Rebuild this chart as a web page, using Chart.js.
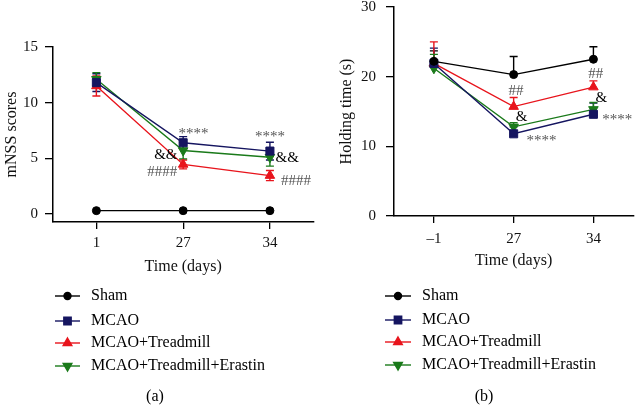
<!DOCTYPE html>
<html>
<head>
<meta charset="utf-8">
<script src="https://cdn.jsdelivr.net/npm/chart.js@4/dist/chart.umd.min.js"></script>
<style>
body { margin: 0; background: #fff; overflow: hidden; }
#wrap { position: relative; width: 640px; height: 406px; overflow: hidden; }
canvas { position: absolute; }
</style>
</head>
<body>
<div id="wrap">
  <canvas id="chartA" width="320" height="406" style="left:0;top:0"></canvas>
  <canvas id="chartB" width="320" height="418" style="left:320px;top:-12px"></canvas>
</div>
<script>
const FONT = "'Liberation Serif', 'Times New Roman', serif";

// groups
const groups = ['Sham', 'MCAO', 'MCAO+Treadmill', 'MCAO+Treadmill+Erastin'];
const colors = ['#000000', '#151560', '#e8141c', '#1a7a1a'];
const markers = ['circle', 'rect', 'triangle', 'triangle'];
const markerRot = [0, 0, 0, 180];
const markerSize = [4, 5.7, 5.5, 5.5];

// (a) mNSS scores
const daysA = ['1', '27', '34'];
const mnssSham = [0.3, 0.3, 0.3];
const mnssMcao = [11.8, 6.4, 5.65];
const mnssTread = [11.5, 4.45, 3.45];
const mnssErastin = [12.1, 5.7, 5.1];
const mnssSemSham = [0, 0, 0];
const mnssSemMcao = [0.8, 0.55, 0.8];
const mnssSemTread = [0.9, 0.4, 0.45];
const mnssSemErastin = [0.6, 0.75, 0.8];
const ticksA = [0, 5, 10, 15];

// (b) holding time
const daysB = ['\u20131', '27', '34'];
const holdSham = [22.2, 20.3, 22.5];
const holdMcao = [21.9, 11.8, 14.6];
const holdTread = [21.9, 15.7, 18.5];
const holdErastin = [21.2, 12.8, 15.3];
const holdSemSham = [1.5, 2.6, 1.8];
const holdSemMcao = [2.2, 1.0, 1.6];
const holdSemTread = [3.1, 1.3, 0.9];
const holdSemErastin = [2.0, 0.6, 1.0];
const ticksB = [0, 10, 20, 30];

// significance marks: x is the category index, y the data value
const notesA = [
  { text: '****', x: 1.12, y: 7.2, color: '#555' },
  { text: '****', x: 2.0, y: 6.95, color: '#555' },
  { text: '&&', x: 0.8, y: 5.3, color: '#000' },
  { text: '####', x: 0.76, y: 3.75, color: '#555' },
  { text: '&&', x: 2.2, y: 5.0, color: '#000' },
  { text: '####', x: 2.3, y: 2.95, color: '#555' }
];
const notesB = [
  { text: '##', x: 1.03, y: 17.9, color: '#555' },
  { text: '&', x: 1.1, y: 14.2, color: '#000' },
  { text: '****', x: 1.35, y: 10.8, color: '#555' },
  { text: '##', x: 2.03, y: 20.4, color: '#555' },
  { text: '&', x: 2.1, y: 17.0, color: '#000' },
  { text: '****', x: 2.3, y: 13.8, color: '#555' }
];

function makeDatasets(series) {
  return series.map((d, i) => ({
    label: groups[i],
    data: d,
    borderColor: colors[i],
    backgroundColor: colors[i],
    borderWidth: 1.4,
    pointStyle: markers[i],
    rotation: markerRot[i],
    pointRadius: markerSize[i],
    pointBorderWidth: 1,
    tension: 0
  }));
}

const errBars = {
  id: 'errbars',
  beforeDatasetsDraw(chart, args, opts) {
    const ctx = chart.ctx;
    const ys = chart.scales.y;
    ctx.save();
    ctx.lineWidth = 1.4;
    opts.errors.forEach((errs, di) => {
      const meta = chart.getDatasetMeta(di);
      const vals = chart.data.datasets[di].data;
      ctx.strokeStyle = colors[di];
      errs.forEach((e, i) => {
        if (!e) return;
        const x = meta.data[i].x;
        const top = ys.getPixelForValue(vals[i] + e);
        const bot = opts.twoSided ? ys.getPixelForValue(vals[i] - e) : meta.data[i].y;
        ctx.beginPath();
        ctx.moveTo(x, top); ctx.lineTo(x, bot);
        ctx.moveTo(x - 4, top); ctx.lineTo(x + 4, top);
        if (opts.twoSided) { ctx.moveTo(x - 4, bot); ctx.lineTo(x + 4, bot); }
        ctx.stroke();
      });
    });
    ctx.restore();
  }
};

const notes = {
  id: 'notes',
  afterDatasetsDraw(chart, args, opts) {
    const ctx = chart.ctx;
    ctx.save();
    ctx.font = '15px ' + FONT;
    ctx.textAlign = 'center';
    ctx.textBaseline = 'middle';
    opts.items.forEach(n => {
      ctx.fillStyle = n.color;
      ctx.fillText(n.text, chart.scales.x.getPixelForValue(n.x), chart.scales.y.getPixelForValue(n.y));
    });
    ctx.restore();
  }
};

const rowLegend = {
  id: 'rowLegend',
  afterDraw(chart, args, opts) {
    const ctx = chart.ctx;
    ctx.save();
    ctx.font = '16px ' + FONT;
    ctx.textBaseline = 'middle';
    groups.forEach((g, i) => {
      const y = opts.rows[i];
      ctx.strokeStyle = colors[i];
      ctx.fillStyle = colors[i];
      ctx.lineWidth = 1.4;
      ctx.beginPath();
      ctx.moveTo(opts.x0, y); ctx.lineTo(opts.x1, y);
      ctx.stroke();
      Chart.helpers.drawPoint(ctx, {
        pointStyle: markers[i], rotation: markerRot[i], radius: markerSize[i] - 0.5, borderWidth: 1
      }, (opts.x0 + opts.x1) / 2, y);
      ctx.fillStyle = '#000';
      ctx.fillText(g, opts.textX, y);
    });
    ctx.textAlign = 'center';
    ctx.fillText(opts.panel, opts.panelX, opts.panelY);
    ctx.restore();
  }
};

function makeChart(id, cfg) {
  return new Chart(document.getElementById(id), {
    type: 'line',
    data: { labels: cfg.labels, datasets: makeDatasets(cfg.series) },
    plugins: [errBars, notes, rowLegend],
    options: {
      responsive: false,
      animation: false,
      layout: { padding: { top: cfg.padTop, right: 5, bottom: cfg.padBottom, left: 0 } },
      plugins: {
        legend: { display: false },
        tooltip: { enabled: false },
        errbars: { errors: cfg.errors, twoSided: cfg.twoSided },
        notes: { items: cfg.notes },
        rowLegend: cfg.legend
      },
      scales: {
        x: {
          offset: true,
          grid: { drawOnChartArea: false, offset: false, tickLength: 7, color: '#000', lineWidth: 1.3 },
          border: { color: '#000', width: 1.5 },
          ticks: { color: '#111', padding: cfg.xTickPad, font: { family: FONT, size: 15 } },
          title: { display: true, text: 'Time (days)', color: '#111', padding: 0, font: { family: FONT, size: 16 } },
          afterFit: s => { s.height = 54; }
        },
        y: {
          min: cfg.yMin,
          max: cfg.yMax,
          afterBuildTicks: s => { s.ticks = cfg.ticks.map(v => ({ value: v })); },
          grid: { drawOnChartArea: false, tickLength: 8, color: '#000', lineWidth: 1.3 },
          border: { color: '#000', width: 1.5 },
          ticks: { color: '#111', padding: cfg.tickPad, font: { family: FONT, size: 15 } },
          title: { display: true, text: cfg.yTitle, color: '#111', padding: cfg.titlePad, font: { family: FONT, size: 16 } },
          afterFit: s => { s.width = cfg.yWidth; }
        }
      }
    }
  });
}

makeChart('chartA', {
  labels: daysA,
  series: [mnssSham, mnssMcao, mnssTread, mnssErastin],
  errors: [mnssSemSham, mnssSemMcao, mnssSemTread, mnssSemErastin],
  twoSided: true,
  notes: notesA,
  yMin: -0.72, yMax: 15, ticks: ticksA,
  yTitle: 'mNSS scores', yWidth: 53, tickPad: 7, titlePad: 2, xTickPad: 5,
  padTop: 47, padBottom: 130,
  legend: { rows: [296, 321, 343, 366], x0: 55, x1: 80, textX: 91, panel: '(a)', panelX: 155, panelY: 397 }
});

makeChart('chartB', {
  labels: daysB,
  series: [holdSham, holdMcao, holdTread, holdErastin],
  errors: [holdSemSham, holdSemMcao, holdSemTread, holdSemErastin],
  twoSided: false,
  notes: notesB,
  yMin: 0, yMax: 30, ticks: ticksB,
  yTitle: 'Holding time (s)', yWidth: 74, tickPad: 10, titlePad: 17, xTickPad: 7,
  padTop: 6, padBottom: 136,
  legend: { rows: [308, 332, 354, 377], x0: 65, x1: 91, textX: 102, panel: '(b)', panelX: 164, panelY: 409 }
});
</script>
</body>
</html>
